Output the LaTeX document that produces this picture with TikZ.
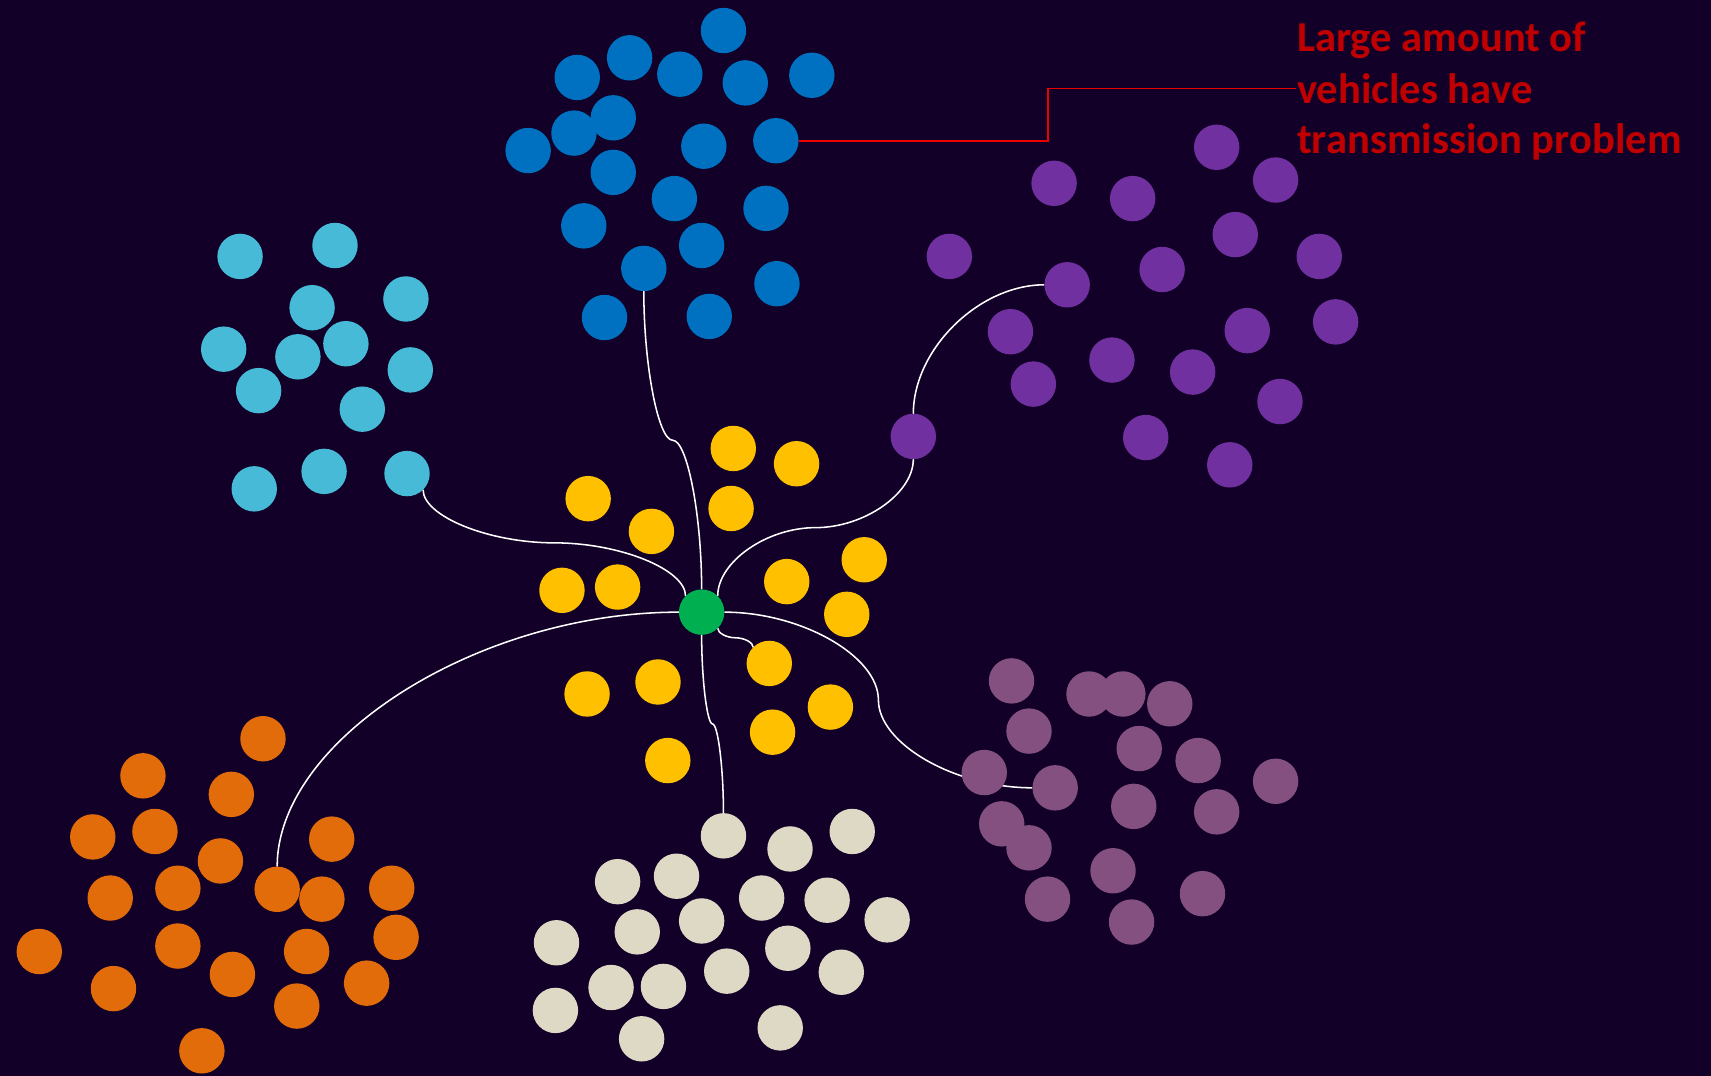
\documentclass[tikz,border=0pt]{standalone}
\usepackage{fontspec}
\newfontfamily\labelfont{Carlito}
\usetikzlibrary{calc}
\definecolor{bgc}{RGB}{18,0,40}
\definecolor{cblue}{RGB}{0,112,192}
\definecolor{ccyan}{RGB}{70,186,214}
\definecolor{cpurple}{RGB}{112,48,160}
\definecolor{cyellow}{RGB}{255,192,0}
\definecolor{cgreen}{RGB}{0,176,80}
\definecolor{corange}{RGB}{227,108,10}
\definecolor{cbeige}{RGB}{221,217,196}
\definecolor{cmauve}{RGB}{131,80,128}
\definecolor{ctext}{RGB}{192,0,0}
\definecolor{cline}{RGB}{235,0,0}
\pgfdeclarelayer{back}
\pgfdeclarelayer{links}
\pgfsetlayers{back,links,main}
\tikzset{
  ball/.style={circle,minimum size=0.416cm,inner sep=0pt,outer sep=0pt,draw=none},
  link/.style={draw=white,line width=0.4pt},
  redlink/.style={draw=cline,line width=0.5pt},
  callout/.style={inner sep=0pt,anchor=base west,text=ctext,font=\labelfont\bfseries\fontsize{11.1}{13}\selectfont},
  linkvhv/.style={to path={let \p1=(\tikztostart), \p2=(\tikztotarget) in
    .. controls (\x1,{0.75*\y1+0.25*\y2}) and ({0.75*\x1+0.25*\x2},{0.5*\y1+0.5*\y2})
    .. ({0.5*\x1+0.5*\x2},{0.5*\y1+0.5*\y2})
    .. controls ({0.25*\x1+0.75*\x2},{0.5*\y1+0.5*\y2}) and (\x2,{0.25*\y1+0.75*\y2})
    .. (\p2)}},
  linkhvh/.style={to path={let \p1=(\tikztostart), \p2=(\tikztotarget) in
    .. controls ({0.75*\x1+0.25*\x2},\y1) and ({0.5*\x1+0.5*\x2},{0.75*\y1+0.25*\y2})
    .. ({0.5*\x1+0.5*\x2},{0.5*\y1+0.5*\y2})
    .. controls ({0.5*\x1+0.5*\x2},{0.25*\y1+0.75*\y2}) and ({0.25*\x1+0.75*\x2},\y2)
    .. (\p2)}},
  linkhv/.style={to path={let \p1=(\tikztostart), \p2=(\tikztotarget) in
    .. controls ({0.5*\x1+0.5*\x2},\y1) and (\x2,{0.5*\y1+0.5*\y2}) .. (\p2)}}
}
\begin{document}
\begin{tikzpicture}[x=0.01cm,y=-0.01cm]
\begin{pgfonlayer}{back}
\fill[bgc] (0,0) rectangle (1568,986);
\end{pgfonlayer}
\useasboundingbox (0,0) rectangle (1568,986);

% blue cluster
\foreach \px/\py [count=\i] in {663/28, 577/53, 529/71, 623/68, 683/76, 744/69, 562/108, 526/122, 484/138, 645/134, 711/129, 562/158, 618/182, 702/191, 535/207, 643/225, 590/246, 712/260, 554/291, 650/290}
  \node[ball,fill=cblue] (b\i) at (\px,\py) {};
% cyan cluster
\foreach \px/\py [count=\i] in {220/235, 307/225, 286/282, 372/274, 205/320, 273/327, 317/315, 376/339, 237/358, 332/375, 233/448, 297/432, 373/434}
  \node[ball,fill=ccyan] (c\i) at (\px,\py) {};
% purple cluster
\foreach \px/\py [count=\i] in {1115/135, 966/168, 1169/165, 1038/182, 1132/215, 870/235, 1209/235, 1065/247, 978/261, 1224/295, 926/304, 1143/303, 1019/330, 1093/341, 947/352, 1173/368, 837/400, 1050/401, 1127/426}
  \node[ball,fill=cpurple] (p\i) at (\px,\py) {};
% yellow cluster
\foreach \px/\py [count=\i] in {672/411, 730/425, 539/457, 597/487, 670/466, 515/541, 566/538, 721/533, 792/513, 776/563, 705/608, 538/636, 603/625, 761/648, 708/671, 612/697}
  \node[ball,fill=cyellow] (y\i) at (\px,\py) {};
% centre
\node[ball,fill=cgreen] (g) at (643,561) {};
% orange cluster
\foreach \px/\py [count=\i] in {241/677, 131/711, 212/728, 85/767, 142/762, 202/789, 304/769, 101/823, 163/814, 254/815, 295/824, 359/814, 36/872, 163/867, 281/872, 363/859, 104/906, 213/893, 336/901, 272/922, 185/963}
  \node[ball,fill=corange] (o\i) at (\px,\py) {};
% beige cluster
\foreach \px/\py [count=\i] in {663/766, 724/778, 781/762, 566/808, 620/803, 698/823, 758/825, 813/843, 584/854, 643/844, 510/864, 722/869, 666/890, 771/891, 560/905, 608/904, 509/926, 588/952, 715/942}
  \node[ball,fill=cbeige] (w\i) at (\px,\py) {};
% mauve cluster
\foreach \px/\py [count=\i] in {927/624, 998/636, 1029/636, 1072/645, 943/670, 1044/686, 1098/697, 902/708, 967/722, 1169/716, 1039/739, 1115/744, 918/755, 943/777, 1020/798, 960/824, 1102/819, 1037/845}
  \node[ball,fill=cmauve] (m\i) at (\px,\py) {};

% callout text
\node[callout] (t1) at (1188,47.4) {Large amount of};
\node[callout] (t2) at (1188,94.7) {vehicles have};
\node[callout] (t3) at (1188,141.1) {transmission problem};
\coordinate (bend) at (960,83);

\begin{pgfonlayer}{links}
\draw[link] (b17.south) to[linkvhv] (g.north);
\draw[link] (c13.south east) to[linkvhv] (g.north west);
\draw[link] (p17.south) to[linkvhv] (g.north east);
\draw[link] (p9.west) to[linkhv] (p17.north);
\draw[link] (g.east) to[linkhvh] (m9.west);
\draw[link] (g.west) to[linkhv] (o10.north);
\draw[link] (g.south) to[linkvhv] (w1.north);
\draw[link] (g.south east) to[linkvhv] (y11.north west);
\draw[redlink] (b11.east) -| (bend |- t2.west) -- (t2.west);
\end{pgfonlayer}
\end{tikzpicture}
\end{document}
